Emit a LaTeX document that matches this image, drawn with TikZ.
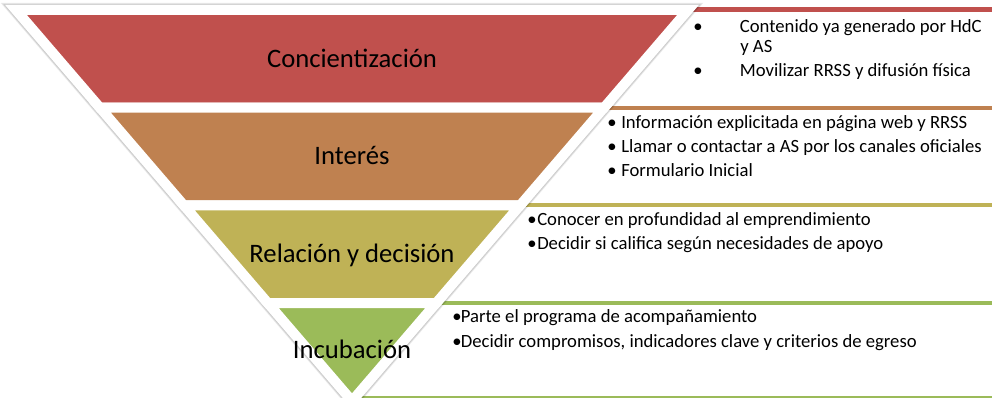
\documentclass[tikz,border=0pt]{standalone}
\usepackage{fontspec}
\setmainfont{Carlito}
\usetikzlibrary{calc}
\definecolor{stagered}{HTML}{C0504D}
\definecolor{stageorange}{HTML}{BF8150}
\definecolor{stageolive}{HTML}{BFB256}
\definecolor{stagegreen}{HTML}{9BBB59}
\begin{document}
\begin{tikzpicture}
[
x = 0.75pt, y = -0.75pt,
stagebox/.style = {draw = white, line width = 7.5pt, line join = miter},
halo/.style = {draw = black, line width = #1, opacity = 0.08, line join = miter},
stage/.style = {anchor = base, inner sep = 0pt, font = \fontsize{20}{24}\selectfont},
bar/.style = {line width = 3pt},
item/.style = {anchor = base west, inner sep = 0pt, font = \fontsize{14}{17}\selectfont}
]
    \useasboundingbox (0,0) rectangle (992,398);

    % funnel corners
    \coordinate (ltop) at (16,10);
    \coordinate (rtop) at (688,10);
    \coordinate (apex) at (352,401);
    \coordinate (edge) at (992,0);
    \foreach \k in {1,2,3}
    {
        \coordinate (l\k) at ($(apex)!{1-\k/4}!(ltop)$);
        \coordinate (r\k) at ($(apex)!{1-\k/4}!(rtop)$);
    }

    % coloured bars of the lists
    \draw[bar, line width = 3.75pt, stagered] (rtop) -- (rtop -| edge);
    \draw[bar, stageorange] (r1) -- (r1 -| edge);
    \draw[bar, stageolive] (r2) -- (r2 -| edge);
    \draw[bar, stagegreen] (r3) -- (r3 -| edge);
    \draw[line width = 1.2pt, stagegreen] (355,397) -- (992,397);

    % shadow of the funnel
    \begin{scope}[shift = {(-2.5,2.5)}]
        \draw[halo = 10.5pt] (ltop) -- (rtop) -- (apex) -- cycle;
        \draw[halo = 9.5pt] (ltop) -- (rtop) -- (apex) -- cycle;
        \draw[halo = 8.5pt] (ltop) -- (rtop) -- (apex) -- cycle;
    \end{scope}

    % stages
    \filldraw[stagebox, fill = stagered] (ltop) -- (rtop) -- (r1) -- (l1) -- cycle;
    \filldraw[stagebox, fill = stageorange] (l1) -- (r1) -- (r2) -- (l2) -- cycle;
    \filldraw[stagebox, fill = stageolive] (l2) -- (r2) -- (r3) -- (l3) -- cycle;
    \filldraw[stagebox, fill = stagegreen] (l3) -- (r3) -- (apex) -- cycle;

    \node[stage] (aware) at (352,68) {Concientización};
    \node[stage] (interest) at (352,165) {Interés};
    \node[stage] (decision) at (352,263) {Relación y decisión};
    \node[stage] (incubation) at (352,359) {Incubación};

    % lists
    \node[item] (aware1) at (693,33) {\makebox[35pt][l]{•}Contenido ya generado por HdC};
    \node[item] (aware1b) at (740,52.5) {y AS};
    \node[item] (aware2) at (693,77) {\makebox[35pt][l]{•}Movilizar RRSS y difusión física};

    \node[item] (interest1) at (607,129) {\makebox[10.5pt][l]{•}Información explicitada en página web y RRSS};
    \node[item] (interest2) at (607,153) {\makebox[10.5pt][l]{•}Llamar o contactar a AS por los canales oficiales};
    \node[item] (interest3) at (607,177) {\makebox[10.5pt][l]{•}Formulario Inicial};

    \node[item] (decision1) at (527,226) {\makebox[7.5pt][l]{•}Conocer en profundidad al emprendimiento};
    \node[item] (decision2) at (527,250) {\makebox[7.5pt][l]{•}Decidir si califica según necesidades de apoyo};

    \node[item] (incubation1) at (452,323) {\makebox[6.5pt][l]{•}Parte el programa de acompañamiento};
    \node[item] (incubation2) at (452,348) {\makebox[6.5pt][l]{•}Decidir compromisos, indicadores clave y criterios de egreso};
\end{tikzpicture}
\end{document}
